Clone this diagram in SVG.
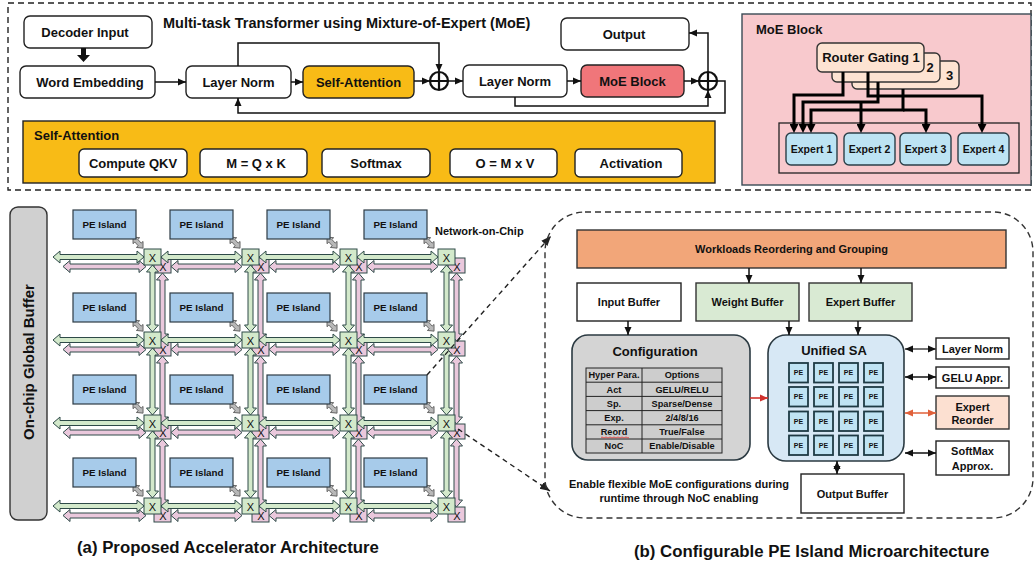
<svg xmlns="http://www.w3.org/2000/svg" width="1034" height="565" viewBox="0 0 1034 565">
<style>
  text { font-family: "Liberation Sans", Arial, Helvetica, sans-serif; font-weight: bold; fill: #111; }
  .m { text-anchor: middle; }
  .f13 { font-size: 13px; }
  .f11 { font-size: 11px; }
  .f105 { font-size: 10.5px; }
  .f9 { font-size: 9.8px; }
  .tb { font-size: 9.2px; }
  .x { font-size: 11px; font-weight: normal; text-anchor: middle; }
  .bx { fill: #fff; stroke: #222; stroke-width: 1.4; }
  .ln { fill: none; stroke: #111; stroke-width: 1.5; }
  .thick { fill: none; stroke: #000; stroke-width: 3; }
  .dash { fill: none; stroke: #222; stroke-width: 1.4; stroke-dasharray: 5 4; }
  .ga { fill: #d3e9cb; stroke: #2e4a48; stroke-width: 1; }
  .pa { fill: #eac8dc; stroke: #2e4a48; stroke-width: 1; }
  .gr { fill: #b8b8b8; stroke: #555; stroke-width: 0.8; }
  .pei { fill: #a7cbea; stroke: #2e3b44; stroke-width: 1.2; }
  .exp { fill: #bde3f3; stroke: #2b3f48; stroke-width: 1.4; }
  .rg { fill: #fde3d2; stroke: #333; stroke-width: 1.4; }
  .spe { fill: #bfe3f3; stroke: #1e3a44; stroke-width: 1.8; }
  .cell { fill: #cdcdcd; stroke: #222; stroke-width: 1; }
</style>
<defs>
  <marker id="ah" viewBox="0 0 8 8" refX="8" refY="4" markerWidth="8" markerHeight="8" markerUnits="userSpaceOnUse" orient="auto-start-reverse">
    <path d="M0,0.5 L8,4 L0,7.5 Z" fill="#111"/>
  </marker>
  <marker id="ahr" viewBox="0 0 8 8" refX="8" refY="4" markerWidth="8" markerHeight="8" markerUnits="userSpaceOnUse" orient="auto-start-reverse">
    <path d="M0,0.5 L8,4 L0,7.5 Z" fill="#d0312d"/>
  </marker>
  <marker id="aho" viewBox="0 0 8 8" refX="8" refY="4" markerWidth="8" markerHeight="8" markerUnits="userSpaceOnUse" orient="auto-start-reverse">
    <path d="M0,0.5 L8,4 L0,7.5 Z" fill="#e0603a"/>
  </marker>
  <marker id="ahk" viewBox="0 0 9 9" refX="3" refY="4.5" markerWidth="9" markerHeight="9" markerUnits="userSpaceOnUse" orient="auto">
    <path d="M0,0 L9,4.5 L0,9 Z" fill="#000"/>
  </marker>
  <marker id="ahd" viewBox="0 0 10 10" refX="10" refY="5" markerWidth="10" markerHeight="10" markerUnits="userSpaceOnUse" orient="auto">
    <path d="M0,1 L10,5 L0,9 Z" fill="#222"/>
  </marker>
  <!-- NoC link shapes: double-headed block arrows -->
  <path id="h91" d="M0,0 L7,-6 V-2.5 H84 V-6 L91,0 L84,6 V2.5 H7 V6 Z"/>
  <path id="h81" d="M0,0 L7,-6 V-2.5 H74 V-6 L81,0 L74,6 V2.5 H7 V6 Z"/>
  <path id="h83" d="M0,0 L7,-6 V-2.5 H76 V-6 L83,0 L76,6 V2.5 H7 V6 Z"/>
  <path id="h71" d="M0,0 L7,-6 V-2.5 H64 V-6 L71,0 L64,6 V2.5 H7 V6 Z"/>
  <path id="v67" d="M0,0 L-6,7 H-2.5 V60 H-6 L0,67 L6,60 H2.5 V7 H6 Z"/>
  <path id="v68" d="M0,0 L-6,7 H-2.5 V61 H-6 L0,68 L6,61 H2.5 V7 H6 Z"/>
  <path id="dg" d="M0,0 L5,-4.5 V-2 H10 V-4.5 L15,0 L10,4.5 V2 H5 V4.5 Z"/>
</defs>

<rect width="1034" height="565" fill="#fff"/>

<!-- ===== Transformer overview ===== -->
<rect x="8" y="3" width="1023" height="187" fill="none" stroke="#222" stroke-width="1.4" stroke-dasharray="6 4"/>
<text x="163" y="28" style="font-size:14.5px">Multi-task Transformer using Mixture-of-Expert (MoE)</text>

<g id="decoder-input"><rect class="bx" x="24" y="16" width="128" height="32" rx="6"/><text class="m f13" x="85" y="36.5">Decoder Input</text></g>
<g id="word-embedding"><rect class="bx" x="20" y="66" width="135" height="32" rx="6"/><text class="m f13" x="90" y="86.5">Word Embedding</text></g>
<g id="layer-norm-1"><rect class="bx" x="186" y="66" width="105" height="32" rx="6"/><text class="m f13" x="238.5" y="86.5">Layer Norm</text></g>
<g id="self-attention"><rect x="303" y="66" width="111" height="32" rx="6" fill="#f8bb16" stroke="#222" stroke-width="1.4"/><text class="m f13" x="358.5" y="86.5">Self-Attention</text></g>
<g id="add-1"><circle cx="439" cy="81" r="9" fill="#fff" stroke="#111" stroke-width="2.2"/><path d="M430,81 H448 M439,72 V90" stroke="#111" stroke-width="2.2"/></g>
<g id="layer-norm-2"><rect class="bx" x="463" y="65" width="104" height="32" rx="6"/><text class="m f13" x="515" y="86">Layer Norm</text></g>
<g id="moe-block"><rect x="581" y="65" width="103" height="32" rx="6" fill="#f0767a" stroke="#222" stroke-width="1.4"/><text class="m f13" x="632.5" y="86">MoE Block</text></g>
<g id="add-2"><circle cx="708" cy="81" r="9" fill="#fff" stroke="#111" stroke-width="2.2"/><path d="M699,81 H717 M708,72 V90" stroke="#111" stroke-width="2.2"/></g>
<g id="output"><rect class="bx" x="561" y="18" width="128" height="32" rx="6"/><text class="m f13" x="624" y="38.5">Output</text></g>

<g id="self-attention-detail">
  <rect x="23" y="121" width="692" height="62" fill="#f8bb16" stroke="#222" stroke-width="1.4"/>
  <text class="f13" x="34" y="139.5">Self-Attention</text>
  <rect class="bx" x="79" y="149" width="108" height="28" rx="5"/><text class="m f13" x="133" y="167.5">Compute QKV</text>
  <rect class="bx" x="200" y="149" width="107" height="28" rx="5"/><text class="m f13" x="256" y="167.5">M = Q x K</text>
  <rect class="bx" x="322" y="149" width="108" height="28" rx="5"/><text class="m f13" x="376" y="167.5">Softmax</text>
  <rect class="bx" x="450" y="149" width="107" height="28" rx="5"/><text class="m f13" x="505" y="167.5">O = M x V</text>
  <rect class="bx" x="575" y="149" width="107" height="28" rx="5"/><text class="m f13" x="631" y="167.5">Activation</text>
</g>

<g id="transformer-connectors">
  <path d="M81,48 H86 V55 H90 L83.5,62 L77,55 H81 Z" fill="#111"/>
  <path class="ln" d="M155,82 H186" marker-end="url(#ah)"/>
  <path class="ln" d="M291,82 H303" marker-end="url(#ah)"/>
  <path class="ln" d="M414,81 H430" marker-end="url(#ah)"/>
  <path class="ln" d="M448,81 H463" marker-end="url(#ah)"/>
  <path class="ln" d="M567,81 H581" marker-end="url(#ah)"/>
  <path class="ln" d="M684,81 H699" marker-end="url(#ah)"/>
  <path class="ln" d="M238,66 V43 H439 V72" marker-end="url(#ah)"/>
  <path class="ln" d="M515,97 V106 H708 V90" marker-end="url(#ah)"/>
  <path class="ln" d="M708,72 V33 H689" marker-end="url(#ah)"/>
  <path class="ln" d="M717,81 H725 V113 H238 V98" marker-end="url(#ah)"/>
</g>

<!-- ===== MoE block detail ===== -->
<g id="moe-detail">
  <rect x="742" y="14" width="289" height="171" fill="#f8c9cd" stroke="#3a4a55" stroke-width="1.4"/>
  <text class="f13" x="756" y="33.5">MoE Block</text>
  <!-- stacked router cards: only the index of the cards behind shows -->
  <g id="router-3"><rect class="rg" x="852" y="61" width="107" height="28" rx="5"/><text class="m f13" x="949.5" y="80">3</text></g>
  <g id="router-2"><rect class="rg" x="832" y="53" width="108" height="29" rx="5"/><text class="m f13" x="930" y="72">2</text></g>
  <g id="router-1"><rect class="rg" x="817" y="43" width="107" height="29" rx="5"/><text class="m f13" x="871" y="62">Router Gating 1</text></g>
  <rect x="779" y="123" width="240" height="50" fill="none" stroke="#222" stroke-width="1.3"/>
  <g id="expert-1"><rect class="exp" x="786" y="133" width="51" height="32" rx="5"/><text class="m f105" x="811.5" y="153">Expert 1</text></g>
  <g id="expert-2"><rect class="exp" x="844" y="133" width="51" height="32" rx="5"/><text class="m f105" x="869.5" y="153">Expert 2</text></g>
  <g id="expert-3"><rect class="exp" x="900" y="133" width="51" height="32" rx="5"/><text class="m f105" x="925.5" y="153">Expert 3</text></g>
  <g id="expert-4"><rect class="exp" x="958" y="133" width="51" height="32" rx="5"/><text class="m f105" x="983.5" y="153">Expert 4</text></g>
  <g id="router-links">
    <path class="thick" d="M843,72 V95 H794 V127" marker-end="url(#ahk)"/>
    <path class="thick" d="M868,72 V96 H982 V127" marker-end="url(#ahk)"/>
    <path class="thick" d="M878,82 V102 H803 V127" marker-end="url(#ahk)"/>
    <path class="thick" d="M861,102 V127" marker-end="url(#ahk)"/>
    <path class="thick" d="M903,89 V110 H811 V127" marker-end="url(#ahk)"/>
    <path class="thick" d="M903,110 H926 V127" marker-end="url(#ahk)"/>
  </g>
</g>

<!-- ===== Accelerator architecture ===== -->
<g id="global-buffer">
  <rect x="10" y="207" width="37" height="313" rx="8" fill="#d0d0d0" stroke="#333" stroke-width="1.4"/>
  <text class="m" transform="translate(33.5,362) rotate(-90)" style="font-size:15px">On-chip Global Buffer</text>
</g>

<g id="noc">
  <!-- pink switch layer -->
  <g class="pa">
    <rect x="154" y="258" width="17" height="15"/><rect x="252" y="258" width="17" height="15"/><rect x="350" y="258" width="17" height="15"/><rect x="448" y="258" width="17" height="15"/>
    <rect x="154" y="341" width="17" height="15"/><rect x="252" y="341" width="17" height="15"/><rect x="350" y="341" width="17" height="15"/><rect x="448" y="341" width="17" height="15"/>
    <rect x="154" y="424" width="17" height="15"/><rect x="252" y="424" width="17" height="15"/><rect x="350" y="424" width="17" height="15"/><rect x="448" y="424" width="17" height="15"/>
    <rect x="154" y="507" width="17" height="15"/><rect x="252" y="507" width="17" height="15"/><rect x="350" y="507" width="17" height="15"/><rect x="448" y="507" width="17" height="15"/>
  </g>
  <g>
    <text class="x" x="163" y="270.5">X</text><text class="x" x="261" y="270.5">X</text><text class="x" x="359" y="270.5">X</text><text class="x" x="457" y="270.5">X</text>
    <text class="x" x="163" y="353.5">X</text><text class="x" x="261" y="353.5">X</text><text class="x" x="359" y="353.5">X</text><text class="x" x="457" y="353.5">X</text>
    <text class="x" x="163" y="436.5">X</text><text class="x" x="261" y="436.5">X</text><text class="x" x="359" y="436.5">X</text><text class="x" x="457" y="436.5">X</text>
    <text class="x" x="163" y="519.5">X</text><text class="x" x="261" y="519.5">X</text><text class="x" x="359" y="519.5">X</text><text class="x" x="457" y="519.5">X</text>
  </g>
  <!-- pink horizontal links -->
  <g class="pa">
    <use href="#h83" x="63" y="266.5"/><use href="#h71" x="171" y="266.5"/><use href="#h71" x="269" y="266.5"/><use href="#h71" x="367" y="266.5"/>
    <use href="#h83" x="63" y="349.5"/><use href="#h71" x="171" y="349.5"/><use href="#h71" x="269" y="349.5"/><use href="#h71" x="367" y="349.5"/>
    <use href="#h83" x="63" y="432.5"/><use href="#h71" x="171" y="432.5"/><use href="#h71" x="269" y="432.5"/><use href="#h71" x="367" y="432.5"/>
    <use href="#h83" x="63" y="515.5"/><use href="#h71" x="171" y="515.5"/><use href="#h71" x="269" y="515.5"/><use href="#h71" x="367" y="515.5"/>
  </g>
  <!-- pink vertical links -->
  <g class="pa">
    <use href="#v68" x="162.5" y="273"/><use href="#v68" x="260.5" y="273"/><use href="#v68" x="358.5" y="273"/><use href="#v68" x="456.5" y="273"/>
    <use href="#v68" x="162.5" y="356"/><use href="#v68" x="260.5" y="356"/><use href="#v68" x="358.5" y="356"/><use href="#v68" x="456.5" y="356"/>
    <use href="#v68" x="162.5" y="439"/><use href="#v68" x="260.5" y="439"/><use href="#v68" x="358.5" y="439"/><use href="#v68" x="456.5" y="439"/>
  </g>
  <!-- green horizontal links -->
  <g class="ga">
    <use href="#h91" x="53" y="257"/><use href="#h81" x="161" y="257"/><use href="#h81" x="259" y="257"/><use href="#h81" x="357" y="257"/>
    <use href="#h91" x="53" y="340"/><use href="#h81" x="161" y="340"/><use href="#h81" x="259" y="340"/><use href="#h81" x="357" y="340"/>
    <use href="#h91" x="53" y="423"/><use href="#h81" x="161" y="423"/><use href="#h81" x="259" y="423"/><use href="#h81" x="357" y="423"/>
    <use href="#h91" x="53" y="506"/><use href="#h81" x="161" y="506"/><use href="#h81" x="259" y="506"/><use href="#h81" x="357" y="506"/>
  </g>
  <!-- green vertical links -->
  <g class="ga">
    <use href="#v67" x="152.5" y="265"/><use href="#v67" x="250.5" y="265"/><use href="#v67" x="348.5" y="265"/><use href="#v67" x="446.5" y="265"/>
    <use href="#v67" x="152.5" y="348"/><use href="#v67" x="250.5" y="348"/><use href="#v67" x="348.5" y="348"/><use href="#v67" x="446.5" y="348"/>
    <use href="#v67" x="152.5" y="431"/><use href="#v67" x="250.5" y="431"/><use href="#v67" x="348.5" y="431"/><use href="#v67" x="446.5" y="431"/>
  </g>
  <!-- green switch layer -->
  <g class="ga">
    <rect x="144" y="249" width="17" height="16"/><rect x="242" y="249" width="17" height="16"/><rect x="340" y="249" width="17" height="16"/><rect x="438" y="249" width="17" height="16"/>
    <rect x="144" y="332" width="17" height="16"/><rect x="242" y="332" width="17" height="16"/><rect x="340" y="332" width="17" height="16"/><rect x="438" y="332" width="17" height="16"/>
    <rect x="144" y="415" width="17" height="16"/><rect x="242" y="415" width="17" height="16"/><rect x="340" y="415" width="17" height="16"/><rect x="438" y="415" width="17" height="16"/>
    <rect x="144" y="498" width="17" height="16"/><rect x="242" y="498" width="17" height="16"/><rect x="340" y="498" width="17" height="16"/><rect x="438" y="498" width="17" height="16"/>
  </g>
  <g>
    <text class="x" x="152.5" y="261.5">X</text><text class="x" x="250.5" y="261.5">X</text><text class="x" x="348.5" y="261.5">X</text><text class="x" x="446.5" y="261.5">X</text>
    <text class="x" x="152.5" y="344.5">X</text><text class="x" x="250.5" y="344.5">X</text><text class="x" x="348.5" y="344.5">X</text><text class="x" x="446.5" y="344.5">X</text>
    <text class="x" x="152.5" y="427.5">X</text><text class="x" x="250.5" y="427.5">X</text><text class="x" x="348.5" y="427.5">X</text><text class="x" x="446.5" y="427.5">X</text>
    <text class="x" x="152.5" y="510.5">X</text><text class="x" x="250.5" y="510.5">X</text><text class="x" x="348.5" y="510.5">X</text><text class="x" x="446.5" y="510.5">X</text>
  </g>
  <!-- island-to-switch ports -->
  <g class="gr">
    <use href="#dg" transform="translate(133,237) rotate(48)"/><use href="#dg" transform="translate(230,237) rotate(48)"/><use href="#dg" transform="translate(327,237) rotate(48)"/><use href="#dg" transform="translate(424,237) rotate(48)"/>
    <use href="#dg" transform="translate(133,320) rotate(48)"/><use href="#dg" transform="translate(230,320) rotate(48)"/><use href="#dg" transform="translate(327,320) rotate(48)"/><use href="#dg" transform="translate(424,320) rotate(48)"/>
    <use href="#dg" transform="translate(133,402) rotate(48)"/><use href="#dg" transform="translate(230,402) rotate(48)"/><use href="#dg" transform="translate(327,402) rotate(48)"/><use href="#dg" transform="translate(424,402) rotate(48)"/>
    <use href="#dg" transform="translate(133,485) rotate(48)"/><use href="#dg" transform="translate(230,485) rotate(48)"/><use href="#dg" transform="translate(327,485) rotate(48)"/><use href="#dg" transform="translate(424,485) rotate(48)"/>
  </g>
  <text class="f11" x="435" y="235">Network-on-Chip</text>
</g>

<g id="pe-islands">
  <g id="pe-0-0"><rect class="pei" x="73" y="210" width="63" height="29"/><text class="m f9" x="104.5" y="228">PE Island</text></g>
  <g id="pe-0-1"><rect class="pei" x="170" y="210" width="63" height="29"/><text class="m f9" x="201.5" y="228">PE Island</text></g>
  <g id="pe-0-2"><rect class="pei" x="267" y="210" width="63" height="29"/><text class="m f9" x="298.5" y="228">PE Island</text></g>
  <g id="pe-0-3"><rect class="pei" x="364" y="210" width="63" height="29"/><text class="m f9" x="395.5" y="228">PE Island</text></g>
  <g id="pe-1-0"><rect class="pei" x="73" y="293" width="63" height="29"/><text class="m f9" x="104.5" y="311">PE Island</text></g>
  <g id="pe-1-1"><rect class="pei" x="170" y="293" width="63" height="29"/><text class="m f9" x="201.5" y="311">PE Island</text></g>
  <g id="pe-1-2"><rect class="pei" x="267" y="293" width="63" height="29"/><text class="m f9" x="298.5" y="311">PE Island</text></g>
  <g id="pe-1-3"><rect class="pei" x="364" y="293" width="63" height="29"/><text class="m f9" x="395.5" y="311">PE Island</text></g>
  <g id="pe-2-0"><rect class="pei" x="73" y="375" width="63" height="29"/><text class="m f9" x="104.5" y="393">PE Island</text></g>
  <g id="pe-2-1"><rect class="pei" x="170" y="375" width="63" height="29"/><text class="m f9" x="201.5" y="393">PE Island</text></g>
  <g id="pe-2-2"><rect class="pei" x="267" y="375" width="63" height="29"/><text class="m f9" x="298.5" y="393">PE Island</text></g>
  <g id="pe-2-3"><rect class="pei" x="364" y="375" width="63" height="29"/><text class="m f9" x="395.5" y="393">PE Island</text></g>
  <g id="pe-3-0"><rect class="pei" x="73" y="458" width="63" height="29"/><text class="m f9" x="104.5" y="476">PE Island</text></g>
  <g id="pe-3-1"><rect class="pei" x="170" y="458" width="63" height="29"/><text class="m f9" x="201.5" y="476">PE Island</text></g>
  <g id="pe-3-2"><rect class="pei" x="267" y="458" width="63" height="29"/><text class="m f9" x="298.5" y="476">PE Island</text></g>
  <g id="pe-3-3"><rect class="pei" x="364" y="458" width="63" height="29"/><text class="m f9" x="395.5" y="476">PE Island</text></g>
</g>

<!-- zoom-out leaders to the island microarchitecture -->
<g id="leaders">
  <path class="dash" d="M427,375 L551,236" marker-end="url(#ahd)"/>
  <path class="dash" d="M458,429 L550,491" marker-end="url(#ahd)"/>
</g>

<!-- ===== PE island microarchitecture ===== -->
<rect x="545" y="212" width="488" height="306" rx="40" fill="none" stroke="#333" stroke-width="1.4" stroke-dasharray="6 4"/>

<g id="workloads"><rect x="577" y="230" width="429" height="38" fill="#f2a679" stroke="#333" stroke-width="1.4"/><text class="m f11" x="791.5" y="252.5">Workloads Reordering and Grouping</text></g>
<g id="input-buffer"><rect class="bx" x="577" y="283" width="104" height="38"/><text class="m f11" x="629" y="305.5">Input Buffer</text></g>
<g id="weight-buffer"><rect x="696" y="283" width="103" height="38" fill="#d9ead3" stroke="#333" stroke-width="1.4"/><text class="m f11" x="747.5" y="305.5">Weight Buffer</text></g>
<g id="expert-buffer"><rect x="809" y="283" width="103" height="38" fill="#d9ead3" stroke="#333" stroke-width="1.4"/><text class="m f11" x="860.5" y="305.5">Expert Buffer</text></g>

<g id="configuration">
  <rect x="572" y="335" width="178" height="125" rx="16" fill="#d4d4d4" stroke="#2b3a42" stroke-width="1.6"/>
  <text class="m f13" x="655" y="355.5">Configuration</text>
  <rect class="cell" x="586" y="368" width="136" height="85"/>
  <path d="M642,368 V453 M586,382.2 H722 M586,396.4 H722 M586,410.6 H722 M586,424.8 H722 M586,439 H722" stroke="#222" stroke-width="1"/>
  <text class="m tb" x="614" y="378.4">Hyper Para.</text><text class="m tb" x="682" y="378.4">Options</text>
  <text class="m tb" x="614" y="392.6">Act</text><text class="m tb" x="682" y="392.6">GELU/RELU</text>
  <text class="m tb" x="614" y="406.8">Sp.</text><text class="m tb" x="682" y="406.8">Sparse/Dense</text>
  <text class="m tb" x="614" y="421">Exp.</text><text class="m tb" x="682" y="421">2/4/8/16</text>
  <text class="m tb" x="614" y="435.2">Reord</text><text class="m tb" x="682" y="435.2">True/False</text>
  <text class="m tb" x="614" y="449.4">NoC</text><text class="m tb" x="682" y="449.4">Enable/Disable</text>
  <path d="M601,437.5 q1,-1 2,0 t2,0 t2,0 t2,0 t2,0 t2,0 t2,0 t2,0 t2,0 t2,0 t2,0 t2,0 t2,0 t2,0" fill="none" stroke="#e03030" stroke-width="0.8"/>
</g>
<text class="m f11" x="679" y="488">Enable flexible MoE configurations during</text>
<text class="m f11" x="679" y="501.5">runtime through NoC enabling</text>

<g id="unified-sa">
  <rect x="768" y="335" width="136" height="126" rx="18" fill="#d7e8f5" stroke="#2b3a42" stroke-width="1.6"/>
  <text class="m f13" x="834" y="354.5">Unified SA</text>
  <g id="pe-array" style="font-size:7px">
    <rect class="spe" x="789" y="363" width="19" height="19.5"/><rect class="spe" x="814" y="363" width="19" height="19.5"/><rect class="spe" x="839" y="363" width="19" height="19.5"/><rect class="spe" x="864" y="363" width="19" height="19.5"/>
    <rect class="spe" x="789" y="387" width="19" height="19.5"/><rect class="spe" x="814" y="387" width="19" height="19.5"/><rect class="spe" x="839" y="387" width="19" height="19.5"/><rect class="spe" x="864" y="387" width="19" height="19.5"/>
    <rect class="spe" x="789" y="411.5" width="19" height="19.5"/><rect class="spe" x="814" y="411.5" width="19" height="19.5"/><rect class="spe" x="839" y="411.5" width="19" height="19.5"/><rect class="spe" x="864" y="411.5" width="19" height="19.5"/>
    <rect class="spe" x="789" y="435.5" width="19" height="19.5"/><rect class="spe" x="814" y="435.5" width="19" height="19.5"/><rect class="spe" x="839" y="435.5" width="19" height="19.5"/><rect class="spe" x="864" y="435.5" width="19" height="19.5"/>
    <text class="m" x="798.5" y="375.3">PE</text><text class="m" x="823.5" y="375.3">PE</text><text class="m" x="848.5" y="375.3">PE</text><text class="m" x="873.5" y="375.3">PE</text>
    <text class="m" x="798.5" y="399.3">PE</text><text class="m" x="823.5" y="399.3">PE</text><text class="m" x="848.5" y="399.3">PE</text><text class="m" x="873.5" y="399.3">PE</text>
    <text class="m" x="798.5" y="423.8">PE</text><text class="m" x="823.5" y="423.8">PE</text><text class="m" x="848.5" y="423.8">PE</text><text class="m" x="873.5" y="423.8">PE</text>
    <text class="m" x="798.5" y="447.8">PE</text><text class="m" x="823.5" y="447.8">PE</text><text class="m" x="848.5" y="447.8">PE</text><text class="m" x="873.5" y="447.8">PE</text>
  </g>
</g>

<g id="layer-norm-unit"><rect class="bx" x="936" y="338" width="73" height="21"/><text class="m f11" x="972.5" y="352.5">Layer Norm</text></g>
<g id="gelu-unit"><rect class="bx" x="936" y="367" width="73" height="21"/><text class="m f11" x="972.5" y="381.5">GELU Appr.</text></g>
<g id="expert-reorder"><rect x="936" y="396" width="73" height="33" fill="#fce0d1" stroke="#333" stroke-width="1.4"/><text class="m f11" x="972.5" y="411">Expert</text><text class="m f11" x="972.5" y="424">Reorder</text></g>
<g id="softmax-unit"><rect class="bx" x="936" y="441" width="73" height="34"/><text class="m f11" x="972.5" y="455">SoftMax</text><text class="m f11" x="972.5" y="469.5">Approx.</text></g>
<g id="output-buffer"><rect class="bx" x="801" y="474" width="103" height="39"/><text class="m f11" x="852.5" y="498">Output Buffer</text></g>

<g id="island-connectors">
  <path class="ln" d="M749,268 V283" marker-end="url(#ah)"/>
  <path class="ln" d="M861,268 V283" marker-end="url(#ah)"/>
  <path class="ln" d="M628,321 V335" marker-end="url(#ah)"/>
  <path class="ln" d="M789,321 V335" marker-end="url(#ah)"/>
  <path class="ln" d="M858,321 V335" marker-end="url(#ah)"/>
  <path d="M750,398 H768" fill="none" stroke="#d0312d" stroke-width="1.6" marker-end="url(#ahr)"/>
  <path d="M905,349 H936" fill="none" stroke="#444" stroke-width="1.5" marker-start="url(#ah)" marker-end="url(#ah)"/>
  <path class="ln" d="M905,377 H936" marker-start="url(#ah)" marker-end="url(#ah)"/>
  <path d="M905,413 H936" fill="none" stroke="#e0603a" stroke-width="1.5" marker-start="url(#aho)" marker-end="url(#aho)"/>
  <path class="ln" d="M905,453 H936" marker-start="url(#ah)" marker-end="url(#ah)"/>
  <path class="ln" d="M837,461 V474" marker-start="url(#ah)" marker-end="url(#ah)"/>
</g>

<text x="77" y="553" style="font-size:16.8px">(a) Proposed Accelerator Architecture</text>
<text x="634" y="557" style="font-size:16.8px">(b) Configurable PE Island Microarchitecture</text>
</svg>
